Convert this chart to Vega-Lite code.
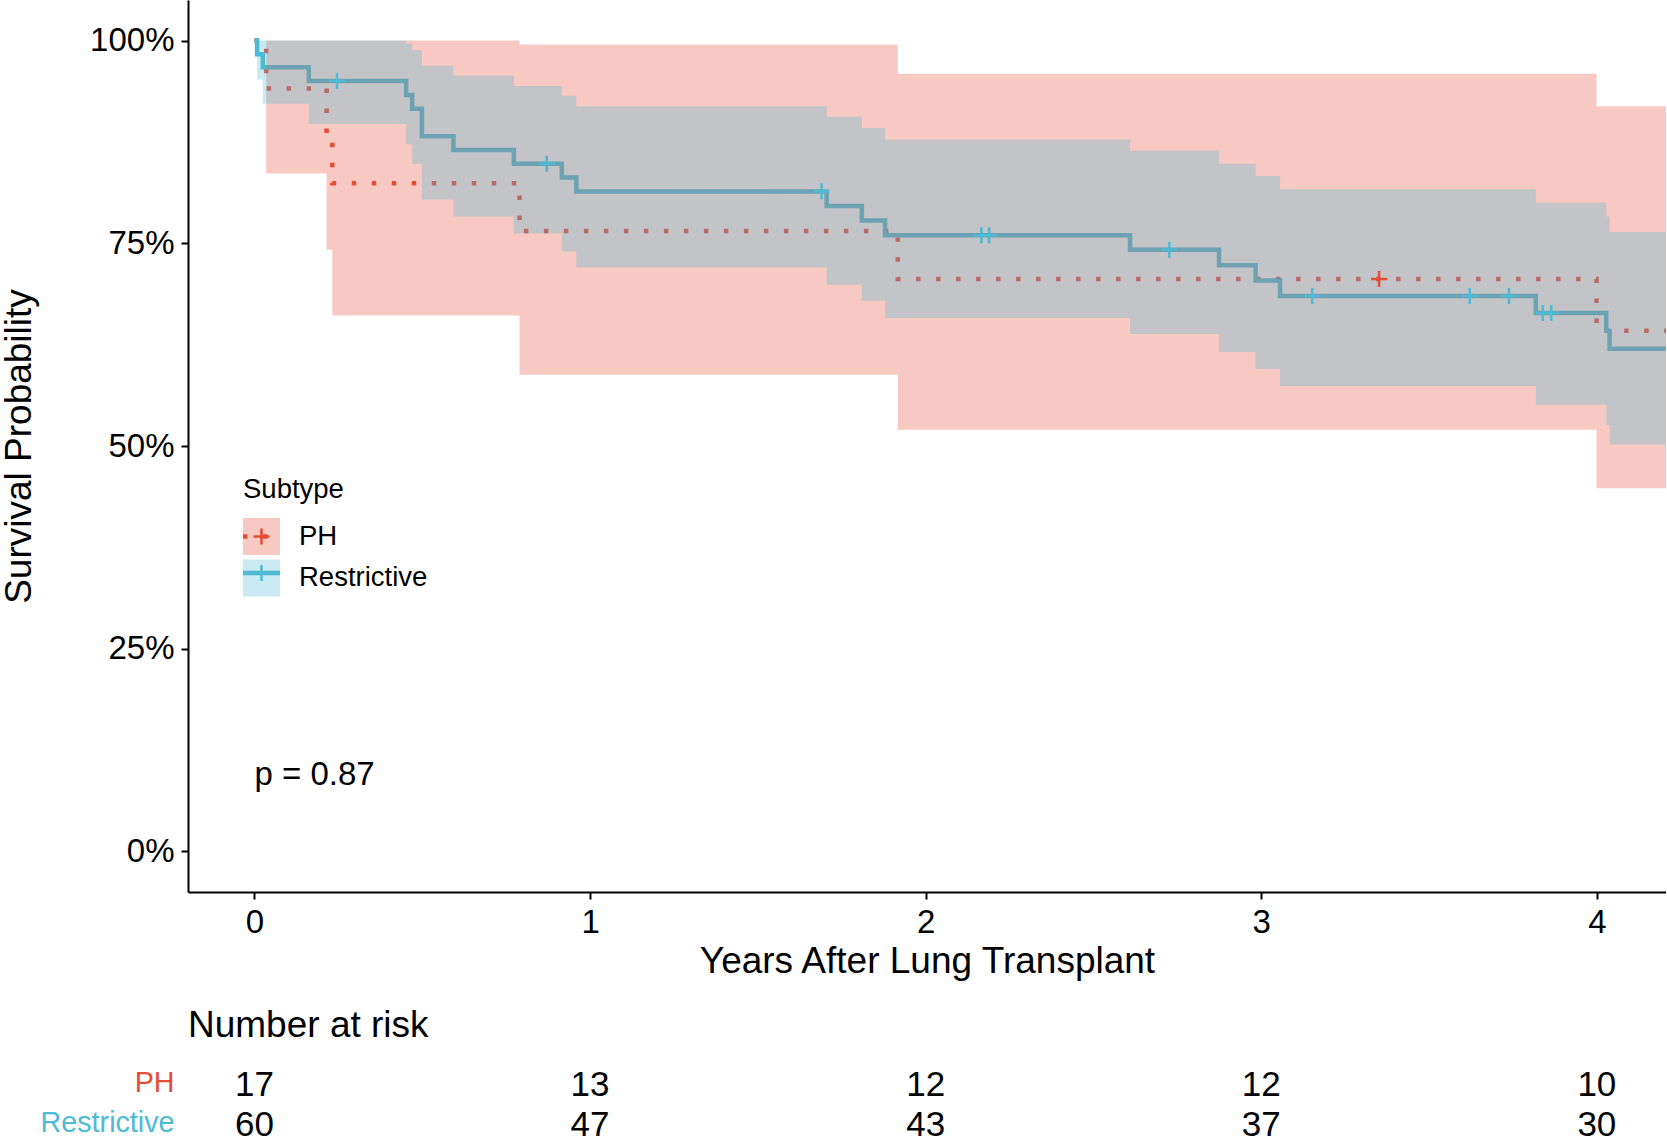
{
  "$schema": "https://vega.github.io/schema/vega-lite/v6.json",
  "background": "white",
  "padding": 0,
  "bounds": "flush",
  "spacing": 180,
  "config": {
    "font": "Liberation Sans",
    "view": {"stroke": null},
    "axis": {
      "grid": false,
      "domainColor": "black",
      "domainWidth": 2,
      "tickColor": "black",
      "tickWidth": 2,
      "tickSize": 7,
      "labelColor": "black",
      "labelFontSize": 33,
      "labelPadding": 7,
      "titleColor": "black",
      "titleFontSize": 37,
      "titleFontWeight": "normal"
    },
    "legend": {
      "orient": "none",
      "legendX": 55,
      "legendY": 476,
      "padding": 0,
      "titleFontSize": 27.5,
      "titleFontWeight": "normal",
      "titleColor": "black",
      "titlePadding": 14.5,
      "labelFontSize": 27.5,
      "labelColor": "black",
      "labelOffset": 19,
      "rowPadding": 4.5,
      "symbolOffset": 0
    }
  },
  "datasets": {
    "curves": [
      {"Subtype": "PH", "t": 0, "surv": 1, "lower": 1, "upper": 1},
      {"Subtype": "PH", "t": 0.035, "surv": 0.941, "lower": 0.836, "upper": 1},
      {"Subtype": "PH", "t": 0.215, "surv": 0.882, "lower": 0.742, "upper": 1},
      {"Subtype": "PH", "t": 0.232, "surv": 0.824, "lower": 0.661, "upper": 1},
      {"Subtype": "PH", "t": 0.79, "surv": 0.765, "lower": 0.588, "upper": 0.995},
      {"Subtype": "PH", "t": 1.917, "surv": 0.706, "lower": 0.52, "upper": 0.959},
      {"Subtype": "PH", "t": 3.999, "surv": 0.642, "lower": 0.448, "upper": 0.919},
      {"Subtype": "PH", "t": 4.206, "surv": 0.642, "lower": 0.448, "upper": 0.919},
      {"Subtype": "Restrictive", "t": 0, "surv": 1, "lower": 1, "upper": 1},
      {"Subtype": "Restrictive", "t": 0.008, "surv": 0.983, "lower": 0.952, "upper": 1},
      {"Subtype": "Restrictive", "t": 0.025, "surv": 0.967, "lower": 0.922, "upper": 1},
      {"Subtype": "Restrictive", "t": 0.162, "surv": 0.95, "lower": 0.897, "upper": 1},
      {"Subtype": "Restrictive", "t": 0.452, "surv": 0.933, "lower": 0.872, "upper": 0.996},
      {"Subtype": "Restrictive", "t": 0.47, "surv": 0.916, "lower": 0.848, "upper": 0.988},
      {"Subtype": "Restrictive", "t": 0.499, "surv": 0.882, "lower": 0.804, "upper": 0.969},
      {"Subtype": "Restrictive", "t": 0.593, "surv": 0.865, "lower": 0.783, "upper": 0.957},
      {"Subtype": "Restrictive", "t": 0.773, "surv": 0.848, "lower": 0.762, "upper": 0.944},
      {"Subtype": "Restrictive", "t": 0.916, "surv": 0.831, "lower": 0.74, "upper": 0.932},
      {"Subtype": "Restrictive", "t": 0.959, "surv": 0.814, "lower": 0.72, "upper": 0.919},
      {"Subtype": "Restrictive", "t": 1.705, "surv": 0.796, "lower": 0.699, "upper": 0.906},
      {"Subtype": "Restrictive", "t": 1.81, "surv": 0.778, "lower": 0.679, "upper": 0.892},
      {"Subtype": "Restrictive", "t": 1.879, "surv": 0.76, "lower": 0.658, "upper": 0.878},
      {"Subtype": "Restrictive", "t": 2.609, "surv": 0.742, "lower": 0.638, "upper": 0.864},
      {"Subtype": "Restrictive", "t": 2.874, "surv": 0.723, "lower": 0.616, "upper": 0.848},
      {"Subtype": "Restrictive", "t": 2.983, "surv": 0.704, "lower": 0.595, "upper": 0.833},
      {"Subtype": "Restrictive", "t": 3.056, "surv": 0.685, "lower": 0.574, "upper": 0.817},
      {"Subtype": "Restrictive", "t": 3.818, "surv": 0.664, "lower": 0.551, "upper": 0.8},
      {"Subtype": "Restrictive", "t": 4.028, "surv": 0.642, "lower": 0.526, "upper": 0.783},
      {"Subtype": "Restrictive", "t": 4.038, "surv": 0.62, "lower": 0.502, "upper": 0.764},
      {"Subtype": "Restrictive", "t": 4.206, "surv": 0.62, "lower": 0.502, "upper": 0.764}
    ],
    "censor": [
      {"Subtype": "PH", "t": 3.351, "surv": 0.706},
      {"Subtype": "Restrictive", "t": 0.246, "surv": 0.95},
      {"Subtype": "Restrictive", "t": 0.871, "surv": 0.848},
      {"Subtype": "Restrictive", "t": 1.69, "surv": 0.814},
      {"Subtype": "Restrictive", "t": 2.166, "surv": 0.76},
      {"Subtype": "Restrictive", "t": 2.189, "surv": 0.76},
      {"Subtype": "Restrictive", "t": 2.726, "surv": 0.742},
      {"Subtype": "Restrictive", "t": 3.152, "surv": 0.685},
      {"Subtype": "Restrictive", "t": 3.621, "surv": 0.685},
      {"Subtype": "Restrictive", "t": 3.738, "surv": 0.685},
      {"Subtype": "Restrictive", "t": 3.839, "surv": 0.664},
      {"Subtype": "Restrictive", "t": 3.864, "surv": 0.664}
    ],
    "risk": [
      {"Subtype": "PH", "t": 0, "n": 17},
      {"Subtype": "PH", "t": 1, "n": 13},
      {"Subtype": "PH", "t": 2, "n": 12},
      {"Subtype": "PH", "t": 3, "n": 12},
      {"Subtype": "PH", "t": 4, "n": 10},
      {"Subtype": "Restrictive", "t": 0, "n": 60},
      {"Subtype": "Restrictive", "t": 1, "n": 47},
      {"Subtype": "Restrictive", "t": 2, "n": 43},
      {"Subtype": "Restrictive", "t": 3, "n": 37},
      {"Subtype": "Restrictive", "t": 4, "n": 30}
    ],
    "pval": [
      {"t": 0, "p": 0.1, "label": "p = 0.87"}
    ]
  },
  "vconcat": [
    {
      "width": 1478,
      "height": 892,
      "layer": [
        {
          "data": {"name": "curves"},
          "mark": {"type": "line", "interpolate": "step-after", "strokeWidth": 4.5, "strokeCap": "butt", "clip": true},
          "encoding": {
            "x": {
              "field": "t", "type": "quantitative", "title": "Years After Lung Transplant",
              "scale": {"domain": [-0.198, 4.206], "nice": false, "zero": false},
              "axis": {"values": [0, 1, 2, 3, 4], "format": "d", "titlePadding": 4}
            },
            "y": {
              "field": "surv", "type": "quantitative", "title": "Survival Probability",
              "scale": {"domain": [-0.05, 1.05], "nice": false, "zero": false},
              "axis": {"values": [0, 0.25, 0.5, 0.75, 1], "format": ".0%", "titlePadding": 51}
            },
            "stroke": {
              "field": "Subtype", "type": "nominal",
              "scale": {"range": ["#E64B35", "#4DBBD5"]},
              "legend": {
                "title": null, "legendY": 518, "labelExpr": "''", "zindex": 1,
                "symbolType": "M-1.14,0H1.14", "symbolSize": 1056.25, "symbolStrokeWidth": 4.5
              }
            },
            "strokeDash": {
              "field": "Subtype", "type": "nominal",
              "scale": {"range": [[4.5, 15.5], [1, 0]]}
            }
          }
        },
        {
          "data": {"name": "curves"},
          "transform": [{"filter": "isValid(datum.lower)"}],
          "mark": {"type": "area", "interpolate": "step-after", "fillOpacity": 0.3, "clip": true},
          "encoding": {
            "x": {"field": "t", "type": "quantitative", "title": "Years After Lung Transplant"},
            "y": {"field": "upper", "type": "quantitative", "title": "Survival Probability"},
            "y2": {"field": "lower"},
            "fill": {
              "field": "Subtype", "type": "nominal",
              "scale": {"range": ["#E64B35", "#4DBBD5"]},
              "legend": {
                "title": "Subtype", "zindex": 0,
                "symbolType": "square", "symbolSize": 1369, "symbolStrokeWidth": 0, "symbolOpacity": 0.3
              }
            }
          }
        },
        {
          "data": {"name": "censor"},
          "mark": {"type": "point", "shape": "M-1,0H1M0,-1V1", "size": 256, "strokeWidth": 2.5, "filled": false, "opacity": 1},
          "encoding": {
            "x": {"field": "t", "type": "quantitative", "title": "Years After Lung Transplant"},
            "y": {"field": "surv", "type": "quantitative", "title": "Survival Probability"},
            "color": {
              "field": "Subtype", "type": "nominal",
              "scale": {"range": ["#E64B35", "#4DBBD5"]},
              "legend": {
                "title": null, "legendY": 518, "labelExpr": "''", "zindex": 2,
                "symbolType": "M-0.464,0H0.464M0,-0.464V0.464", "symbolSize": 1190.25, "symbolStrokeWidth": 2.5
              }
            }
          }
        },
        {
          "data": {"name": "pval"},
          "mark": {"type": "text", "align": "left", "baseline": "middle", "fontSize": 33, "dy": 5, "color": "black"},
          "encoding": {
            "x": {"field": "t", "type": "quantitative", "title": "Years After Lung Transplant"},
            "y": {"field": "p", "type": "quantitative", "title": "Survival Probability"},
            "text": {"field": "label"}
          }
        }
      ]
    },
    {
      "width": 1478,
      "height": 66,
      "data": {"name": "risk"},
      "title": {
        "text": "Number at risk", "anchor": "start", "frame": "group",
        "fontSize": 37, "fontWeight": "normal", "color": "black",
        "baseline": "alphabetic", "offset": 37, "dy": 43
      },
      "mark": {"type": "text", "fontSize": 35, "align": "center", "baseline": "middle", "color": "black"},
      "encoding": {
        "x": {
          "field": "t", "type": "quantitative",
          "scale": {"domain": [-0.198, 4.206], "nice": false, "zero": false},
          "axis": null
        },
        "y": {
          "field": "Subtype", "type": "nominal",
          "scale": {"type": "point", "padding": 0.325},
          "axis": {
            "title": null, "domain": false, "ticks": false, "tickSize": 0,
            "labelPadding": 14, "labelFontSize": 28.7, "labelOffset": -3,
            "labelColor": {"expr": "datum.value == 'PH' ? '#E64B35' : '#4DBBD5'"}
          }
        },
        "text": {"field": "n", "type": "quantitative"}
      }
    }
  ]
}
